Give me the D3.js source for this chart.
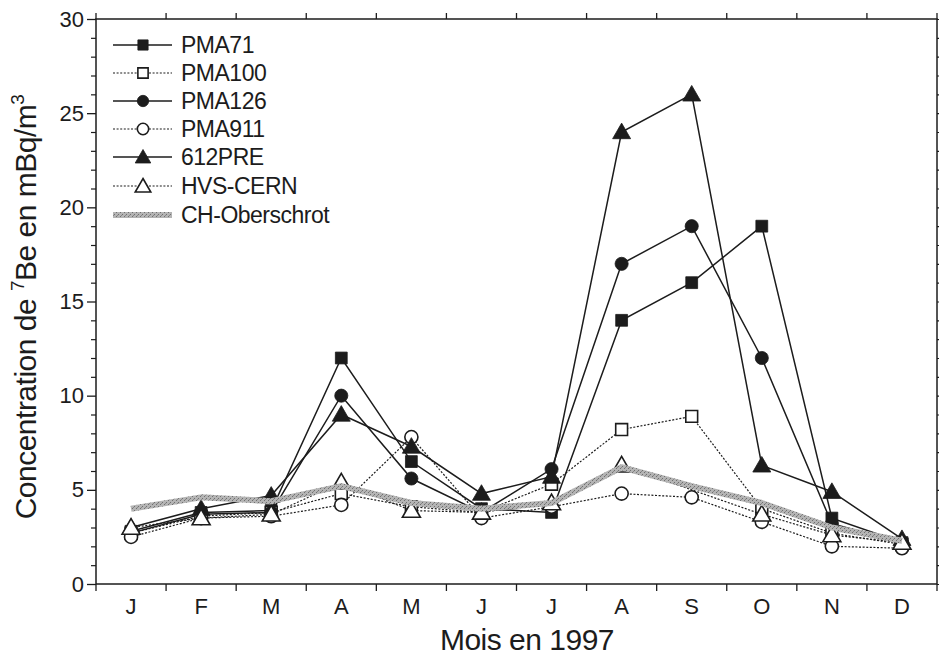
<!DOCTYPE html>
<html>
<head>
<meta charset="utf-8">
<script src="https://cdn.jsdelivr.net/npm/d3@7"></script>
<style>
  body { margin: 0; background: #fff; }
  text { font-family: "Liberation Sans", Arial, sans-serif; fill: #1c1c1c; }
</style>
</head>
<body>
<div id="main"></div>
<script>
// monthly 7Be concentrations (mBq/m3), 1997
const months = ['J', 'F', 'M', 'A', 'M', 'J', 'J', 'A', 'S', 'O', 'N', 'D'];
const pma71  = [2.8, 3.8, 3.9, 12.0, 6.5, 4.0, 3.8, 14.0, 16.0, 19.0, 3.5, 2.2];
const pma100 = [2.7, 3.6, 3.8, 4.8, 4.1, 3.8, 5.3, 8.2, 8.9, 4.0, 2.7, 2.1];
const pma126 = [2.7, 3.7, 3.8, 10.0, 5.6, 3.8, 6.1, 17.0, 19.0, 12.0, 3.2, 2.2];
const pma911 = [2.5, 3.5, 3.6, 4.2, 7.8, 3.5, 4.1, 4.8, 4.6, 3.3, 2.0, 1.9];
const pre612 = [3.0, 4.0, 4.7, 9.0, 7.3, 4.8, 5.7, 24.0, 26.0, 6.3, 4.9, 2.4];
const hvsCern = [3.0, 3.5, 3.7, 5.4, 3.9, 3.8, 4.3, 6.3, null, 3.7, 2.6, 2.2];
const chOberschrot = [4.0, 4.6, 4.4, 5.2, 4.3, 4.0, 4.3, 6.2, 5.2, 4.3, 3.0, 2.3];
const yTicks = [0, 5, 10, 15, 20, 25, 30];

const series = [
  { name: 'PMA71', values: pma71, symbol: d3.symbolSquare, filled: true, dashed: false },
  { name: 'PMA100', values: pma100, symbol: d3.symbolSquare, filled: false, dashed: true },
  { name: 'PMA126', values: pma126, symbol: d3.symbolCircle, filled: true, dashed: false },
  { name: 'PMA911', values: pma911, symbol: d3.symbolCircle, filled: false, dashed: true },
  { name: '612PRE', values: pre612, symbol: d3.symbolTriangle, filled: true, dashed: false },
  { name: 'HVS-CERN', values: hvsCern, symbol: d3.symbolTriangle, filled: false, dashed: true }
];

const width = 939, height = 657;
const margin = { left: 96, right: 2, top: 19, bottom: 73 };
const ink = '#1c1c1c';

let svg = d3.select('#main')
  .append('svg')
    .attr('width', width)
    .attr('height', height);

// grainy grey texture for the CH-Oberschrot band
const pat = svg.append('defs').append('pattern')
  .attr('id', 'grain')
  .attr('patternUnits', 'userSpaceOnUse')
  .attr('width', 4).attr('height', 4);
pat.append('rect').attr('width', 4).attr('height', 4).attr('fill', '#b4b4b4');
pat.append('rect').attr('x', 0).attr('y', 0).attr('width', 1).attr('height', 1).attr('fill', '#707070');
pat.append('rect').attr('x', 2).attr('y', 2).attr('width', 1).attr('height', 1).attr('fill', '#707070');
pat.append('rect').attr('x', 1).attr('y', 3).attr('width', 1).attr('height', 1).attr('fill', '#888');

const x = d3.scaleBand()
  .domain(d3.range(months.length))
  .range([margin.left, width - margin.right]);

const y = d3.scaleLinear()
  .domain([0, 30])
  .range([height - margin.bottom, margin.top]);

const x0 = margin.left, x1 = width - margin.right;
const y0 = height - margin.bottom, y1 = margin.top;

// frame with month-boundary ticks on bottom and top
const bottomAxis = d3.axisBottom(x).tickSize(0).tickPadding(14).tickFormat(i => months[i]);
const gx = svg.append('g').attr('transform', `translate(0,${y0})`).call(bottomAxis);
gx.select('.domain').remove();
gx.selectAll('text').attr('font-size', 22).attr('fill', ink);

const bounds = d3.range(months.length + 1).map(i => x0 + i * x.bandwidth());
svg.selectAll('.bt').data(bounds).enter().append('line')
  .attr('x1', d => d).attr('x2', d => d)
  .attr('y1', y0).attr('y2', y0 + 7)
  .attr('stroke', ink).attr('stroke-width', 1.3);
svg.selectAll('.tt').data(bounds).enter().append('line')
  .attr('x1', d => d).attr('x2', d => d)
  .attr('y1', y1).attr('y2', y1 - 6)
  .attr('stroke', ink).attr('stroke-width', 1.3);

// left and right value axes, major every 5 and minor every 1
const gy = svg.append('g').attr('transform', `translate(${x0},0)`)
  .call(d3.axisLeft(y).tickValues(yTicks).tickSize(9).tickPadding(3));
gy.select('.domain').remove();
gy.selectAll('line').attr('stroke', ink).attr('stroke-width', 1.3);
gy.selectAll('text').attr('font-size', 22).attr('fill', ink);

const minor = d3.range(0, 31).filter(v => v % 5 !== 0);
svg.append('g').attr('transform', `translate(${x0},0)`)
  .call(d3.axisLeft(y).tickValues(minor).tickSize(5).tickFormat(''))
  .call(g => g.select('.domain').remove())
  .selectAll('line').attr('stroke', ink).attr('stroke-width', 1.2);

svg.append('g').attr('transform', `translate(${x1},0)`)
  .call(d3.axisRight(y).tickValues(d3.range(0, 31)).tickSize(5).tickFormat(''))
  .call(g => g.select('.domain').remove())
  .selectAll('line').attr('stroke', ink).attr('stroke-width', 1.2);

svg.append('rect')
  .attr('x', x0).attr('y', y1)
  .attr('width', x1 - x0).attr('height', y0 - y1)
  .attr('fill', 'none').attr('stroke', ink).attr('stroke-width', 1.5);

// axis titles
svg.append('text')
  .attr('x', 527).attr('y', 650)
  .attr('text-anchor', 'middle')
  .attr('font-size', 30)
  .attr('letter-spacing', -0.5)
  .text('Mois en 1997');

const yt = svg.append('text')
  .attr('transform', 'translate(36,307) rotate(-90)')
  .attr('text-anchor', 'middle')
  .attr('font-size', 30)
  .attr('letter-spacing', -0.5);
yt.append('tspan').text('Concentration de ');
yt.append('tspan').attr('font-size', 19).attr('dy', -12).text('7');
yt.append('tspan').attr('dy', 12).text('Be en mBq/m');
yt.append('tspan').attr('font-size', 19).attr('dy', -12).text('3');

const cx = i => x(i) + x.bandwidth() / 2;

const line = d3.line()
  .x(d => cx(d.i))
  .y(d => y(d.v));

const sizeOf = s => s === d3.symbolCircle ? 135 : 140;

function drawMarker(g, s, px, py, scale = 1) {
  g.append('path')
    .attr('d', d3.symbol().type(s.symbol).size(sizeOf(s.symbol) * scale))
    .attr('transform', `translate(${px},${py + (s.symbol === d3.symbolTriangle ? 1.5 : 0)})`)
    .attr('fill', s.filled ? ink : '#fff')
    .attr('stroke', ink)
    .attr('stroke-width', s.filled ? 0.8 : 1.6);
}

series.forEach(s => {
  const pts = s.values.map((v, i) => ({ i, v })).filter(d => d.v !== null);
  const g = svg.append('g');
  g.append('path')
    .datum(pts)
    .attr('d', line)
    .attr('fill', 'none')
    .attr('stroke', ink)
    .attr('stroke-width', s.dashed ? 1.2 : 1.5)
    .attr('stroke-dasharray', s.dashed ? '2,1.6' : null);
  pts.forEach(d => drawMarker(g, s, cx(d.i), y(d.v)));
});

// CH-Oberschrot: wide textured band without markers
const chPts = chOberschrot.map((v, i) => ({ i, v }));
svg.append('path')
  .datum(chPts)
  .attr('d', line)
  .attr('fill', 'none')
  .attr('stroke', 'url(#grain)')
  .attr('stroke-width', 6)
  .attr('stroke-linejoin', 'round');

// legend
const legY = [45, 73, 101, 129, 157, 186, 215];
series.forEach((s, k) => {
  const g = svg.append('g');
  const ly = legY[k];
  g.append('line')
    .attr('x1', 113).attr('x2', 172).attr('y1', ly).attr('y2', ly)
    .attr('stroke', ink)
    .attr('stroke-width', s.dashed ? 1.2 : 1.5)
    .attr('stroke-dasharray', s.dashed ? '2,1.6' : null);
  drawMarker(g, s, 143, ly, 0.75);
  g.append('text')
    .attr('x', 181).attr('y', ly + 8)
    .attr('font-size', 23)
    .attr('letter-spacing', -0.5)
    .text(s.name);
});
svg.append('line')
  .attr('x1', 113).attr('x2', 172).attr('y1', legY[6]).attr('y2', legY[6])
  .attr('stroke', 'url(#grain)').attr('stroke-width', 6);
svg.append('text')
  .attr('x', 181).attr('y', legY[6] + 8)
  .attr('font-size', 23)
  .attr('letter-spacing', -0.5)
  .text('CH-Oberschrot');
</script>
</body>
</html>
